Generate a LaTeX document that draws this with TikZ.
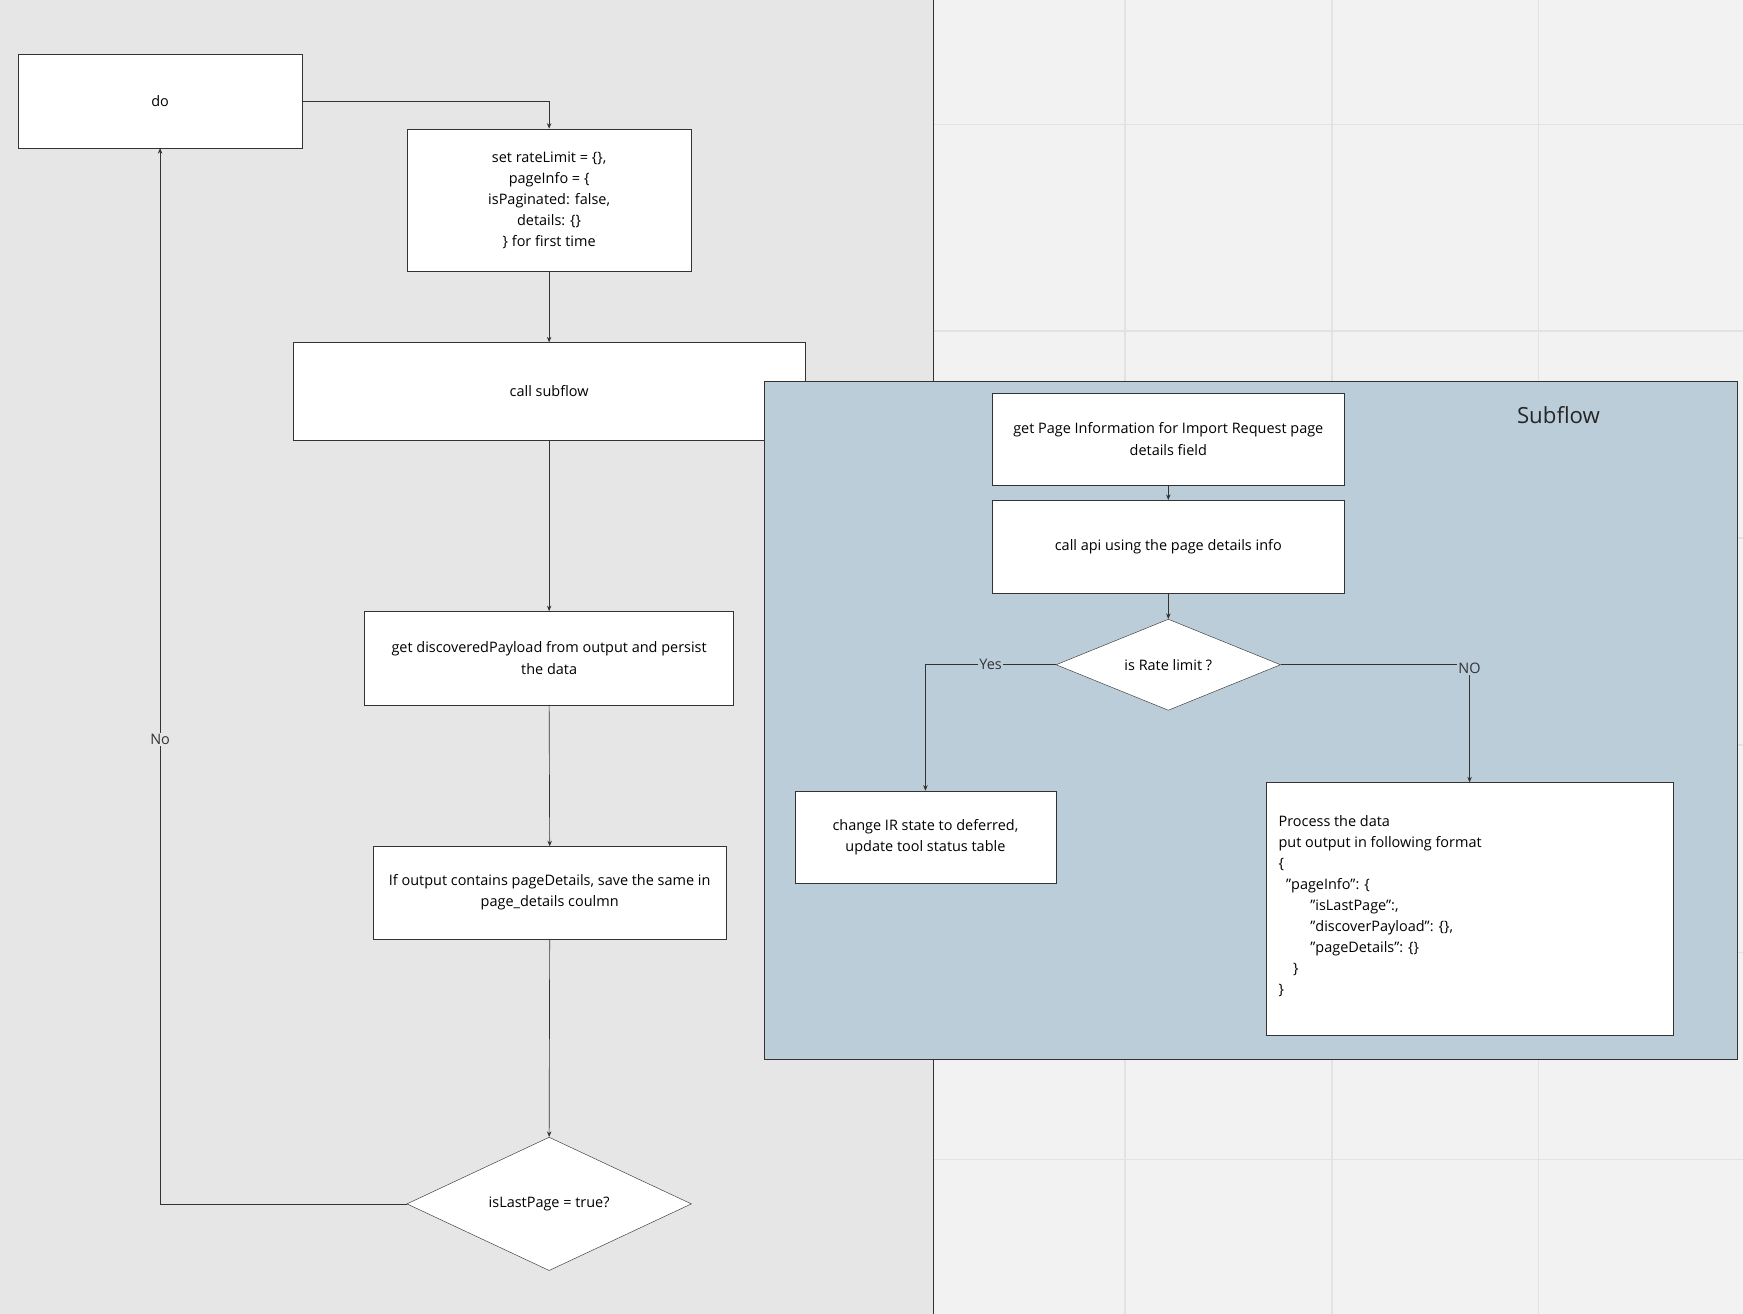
\documentclass[tikz,border=0pt]{standalone}
\usepackage{fontspec}
\setmainfont{Open Sans}
\usetikzlibrary{shapes.geometric,arrows.meta}
\definecolor{lgray}{HTML}{E6E6E6}
\definecolor{rgray}{HTML}{F2F2F2}
\definecolor{gridc}{HTML}{E2E2E2}
\definecolor{panel}{HTML}{BCCDDA}
\definecolor{edge}{HTML}{333333}
\begin{document}
\begin{tikzpicture}[x=1pt,y=-1pt,
  box/.style={draw=edge,fill=white,inner sep=0pt,align=center,font=\fontsize{13}{19}\selectfont},
  dia/.style={diamond,draw=edge,fill=white,inner sep=0pt,aspect=2,font=\fontsize{13}{19}\selectfont},
  arr/.style={draw=edge,line width=0.6pt,-{Stealth[length=5pt,width=4pt]}},
  lbl/.style={fill=lgray,inner sep=1pt,font=\fontsize{13}{16}\selectfont,text=edge}]
\useasboundingbox (0,0) rectangle (1568,1182);
\fill[lgray] (0,0) rectangle (840,1182);
\fill[rgray] (840,0) rectangle (1568,1182);
\foreach \x in {1012,1198,1384} \draw[gridc,line width=1.5pt] (\x,0) -- (\x,1182);
\foreach \y in {112,298,484,670,857,1043} \draw[gridc,line width=1.5pt] (840,\y) -- (1568,\y);
\draw[edge,line width=0.8pt] (840,0) -- (840,1182);

\node[box,minimum width=256pt,minimum height=84pt] (do) at (144,91) {do};
\node[box,minimum width=256pt,minimum height=128pt] (set) at (494,180) {set rateLimit = \{\},\\pageInfo = \{\\isPaginated: false,\\details: \{\}\\\} for first time};
\node[box,minimum width=460pt,minimum height=88pt] (call) at (494,352) {call subflow};

\draw[edge,fill=panel,line width=0.6pt] (688,343) rectangle (1563,953);
\node[font=\fontsize{20}{24}\selectfont,text=black!85] (title) at (1402,373) {Subflow};

\node[box,minimum width=332pt,minimum height=84pt] (disc) at (494,592) {get discoveredPayload from output and persist\\the data};
\node[box,minimum width=317pt,minimum height=83pt] (ifo) at (494.5,803) {If output contains pageDetails, save the same in\\page\_details coulmn};
\node[dia,minimum width=256pt,minimum height=120pt] (last) at (494,1083) {isLastPage = true?};

\node[box,minimum width=316pt,minimum height=83pt] (gpi) at (1051,395) {get Page Information for Import Request page\\details field};
\node[box,minimum width=316pt,minimum height=84pt] (api) at (1051,492) {call api using the page details info};
\node[dia,minimum width=202pt,minimum height=82pt] (rate) at (1051,598) {is Rate limit ?};
\node[box,minimum width=235pt,minimum height=83pt] (chg) at (832.5,753) {change IR state to deferred,\\update tool status table};
\node[box,minimum width=366pt,minimum height=227pt] (proc) at (1322,817.5) {};
\node[anchor=north west,align=left,inner sep=0pt,font=\fontsize{13}{19}\selectfont] (proct) at (1150,733) {Process the data\\put output in following format\\\{\\\ \ "pageInfo": \{\\\hspace*{2.2em}"isLastPage":,\\\hspace*{2.2em}"discoverPayload": \{\},\\\hspace*{2.2em}"pageDetails": \{\}\\\hspace*{1em}\}\\\}};

\draw[arr] (do.east) -| (set.north);
\draw[arr] (set.south) -- (call.south |- 0,308);
\draw[arr] (call.south) -- (disc.north);
\draw[arr] (disc.south) -- (ifo.north);
\draw[arr] (ifo.south) -- (last.north);
\draw[arr] (last.west) -| (do.south) node[lbl,pos=0.72] {No};
\draw[arr] (gpi.south) -- (api.north);
\draw[arr] (api.south) -- (rate.north);
\draw[arr] (rate.west) -| (chg.north) node[lbl,fill=panel,pos=0.25] {Yes};
\draw[arr] (rate.east) -| (proc.north) node[lbl,fill=panel,pos=0.5,yshift=-3pt] {NO};
\end{tikzpicture}
\end{document}
